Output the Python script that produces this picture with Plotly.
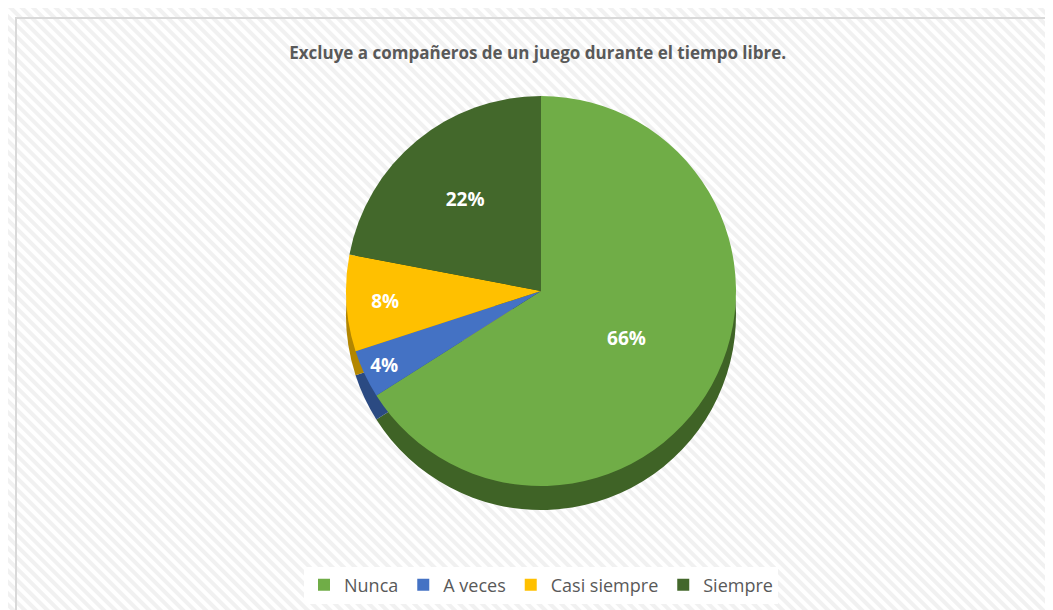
import base64
import plotly.graph_objects as go

labels = ['Nunca', 'A veces', 'Casi siempre', 'Siempre']
counts = [33, 2, 4, 11]
colors = ['#70AD47', '#4472C4', '#FFC000', '#43682B']
side_colors = ['#3F6326', '#2B4A82', '#B38600', '#2A4219']
title = 'Excluye a compañeros de un juego durante el tiempo libre.'

W, H = 1053, 610

# striped background (Excel style), as an inline svg image
svg = ('<svg xmlns="http://www.w3.org/2000/svg" width="%d" height="%d">'
       '<defs><pattern id="p" width="8" height="8" patternUnits="userSpaceOnUse" '
       'patternTransform="rotate(-45)"><rect width="8" height="8" fill="#ffffff"/>'
       '<rect width="4" height="8" fill="#f1f1f1"/></pattern></defs>'
       '<rect width="100%%" height="100%%" fill="url(#p)"/></svg>') % (W, H)
bg = 'data:image/svg+xml;base64,' + base64.b64encode(svg.encode()).decode()

top, diam, depth = 88, 390, 24
cx = 533 / W
dom_top = [1 - (top + diam) / H, 1 - top / H]
dom_side = [1 - (top + diam + depth) / H, 1 - (top + depth) / H]
dom_x = [cx - 0.3, cx + 0.3]

fig = go.Figure()
# darker copy underneath for the depth edge
fig.add_trace(go.Pie(labels=labels, values=counts, sort=False, direction='clockwise',
                     rotation=0, marker=dict(colors=side_colors, line=dict(width=0)),
                     textinfo='none', hoverinfo='skip', showlegend=False,
                     domain=dict(x=dom_x, y=dom_side)))
fig.add_trace(go.Pie(labels=labels, values=counts, sort=False, direction='clockwise',
                     rotation=0, marker=dict(colors=colors, line=dict(width=0)),
                     textinfo='percent', texttemplate='<b>%{percent:.0%}</b>',
                     textposition='inside', insidetextorientation='horizontal',
                     textfont=dict(color='white', size=19, family='Open Sans'),
                     domain=dict(x=dom_x, y=dom_top)))

fig.update_layout(
    width=W, height=H,
    margin=dict(l=0, r=0, t=0, b=0),
    paper_bgcolor='white',
    title=dict(text='<b>' + title + '</b>', x=0.503, y=1 - 45 / H, xanchor='center', yanchor='middle',
               font=dict(size=17, color='#595959', family='Open Sans')),
    legend=dict(orientation='h', x=cx, y=1 - 577 / H, xanchor='center', yanchor='middle',
                bgcolor='white', font=dict(size=18, color='#595959', family='Open Sans'),
                itemwidth=30, traceorder='normal'),
    images=[dict(source=bg, xref='paper', yref='paper', x=0, y=1, sizex=1, sizey=1,
                 sizing='stretch', layer='below', xanchor='left', yanchor='top')],
    shapes=[dict(type='rect', xref='paper', yref='paper', x0=8 / W, y0=-0.05, x1=1.05, y1=1 - 10 / H,
                 line=dict(color='#d9d9d9', width=2), fillcolor='rgba(0,0,0,0)', layer='below')],
)

fig.write_html('out.html')
